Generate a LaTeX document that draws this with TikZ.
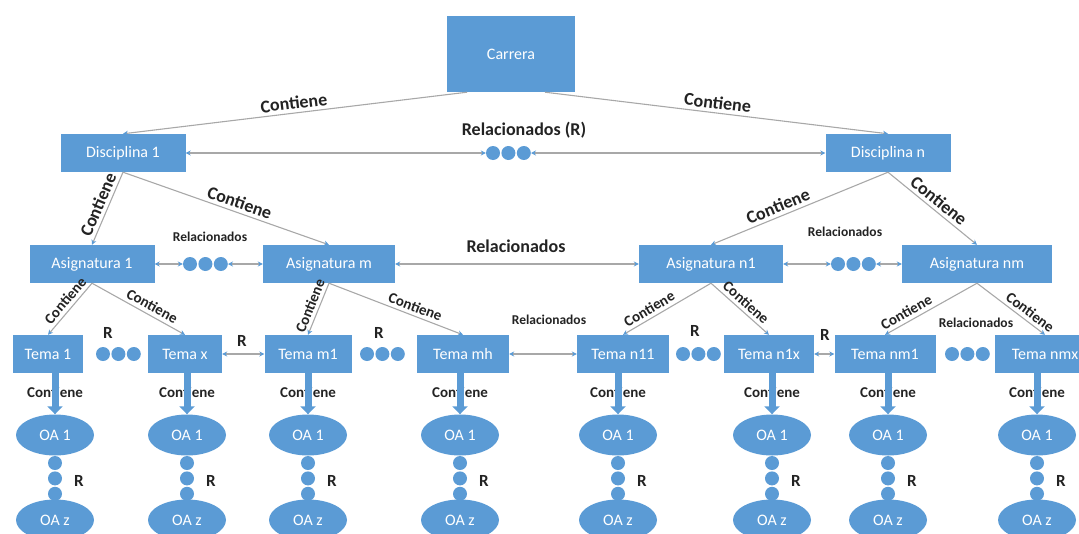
\documentclass[tikz,border=0pt]{standalone}
\usepackage{fontspec}
\setmainfont{Carlito}
\usepackage{tikz}
\usetikzlibrary{arrows.meta,positioning,shapes.geometric}
\definecolor{oablue}{RGB}{91,155,213}
\definecolor{linegray}{RGB}{168,168,168}
\definecolor{labelblack}{RGB}{35,35,35}

\begin{document}
\begin{tikzpicture}[x=1pt, y=-1pt, ->, >={Stealth[length=5pt,width=5pt,color=oablue]}]
	\tikzstyle{every edge}=[draw=linegray, line width=1.1pt]
	\tikzstyle{box}=[rectangle, fill=oablue, text=white, minimum height=38pt, inner sep=0pt, font=\fontsize{16}{18}\selectfont]
	\tikzstyle{oa}=[ellipse, fill=oablue, text=white, minimum width=78pt, minimum height=41pt, inner sep=0pt, font=\fontsize{16}{18}\selectfont]
	\tikzstyle{dot}=[circle, fill=oablue, minimum size=14pt, inner sep=0pt]
	\tikzstyle{big}=[text=labelblack, font=\bfseries\fontsize{18}{20}\selectfont]
	\tikzstyle{mid}=[text=labelblack, font=\bfseries\fontsize{15}{17}\selectfont]
	\tikzstyle{small}=[text=labelblack, font=\bfseries\fontsize{13.5}{15}\selectfont]
	\tikzstyle{rmark}=[text=labelblack, font=\bfseries\fontsize{17}{19}\selectfont]
	\tikzstyle{fat arrow}=[-{Triangle[length=8pt,width=15pt]}, draw=oablue, line width=7pt]
	\useasboundingbox (0,0) rectangle (1079,533);
	\clip (0,0) rectangle (1079,533);

	% carrera y disciplinas
	\node[box, minimum width=128pt, minimum height=76pt] (C) at (511,54) {Carrera};
	\node[box, minimum width=125pt] (D1) at (123,153) {Disciplina 1};
	\node[box, minimum width=125pt] (Dn) at (888,153) {Disciplina n};
	\node[dot] (r1) at (493,153) {};
	\node[dot, right=1pt of r1] (r2) {};
	\node[dot, right=1pt of r2] (r3) {};
	\node[big] (relR) at (524,130) {Relacionados (R)};

	% asignaturas
	\node[box, minimum width=125pt] (A1) at (92,264) {Asignatura 1};
	\node[box, minimum width=132pt] (Am) at (329,264) {Asignatura m};
	\node[box, minimum width=144pt] (An1) at (711,264) {Asignatura n1};
	\node[box, minimum width=150pt] (Anm) at (977,264) {Asignatura nm};
	\node[dot] (a1) at (190,264) {};
	\node[dot, right=1pt of a1] (a2) {};
	\node[dot, right=1pt of a2] (a3) {};
	\node[dot] (b1) at (838,264) {};
	\node[dot, right=1pt of b1] (b2) {};
	\node[dot, right=1pt of b2] (b3) {};
	\node[small] (relA) at (210,237) {Relacionados};
	\node[big] (relM) at (516,246) {Relacionados};
	\node[small] (relN) at (845,232) {Relacionados};

	% temas
	\node[box, minimum width=70pt] (T1) at (48,354) {Tema 1};
	\node[box, minimum width=74pt] (Tx) at (185,354) {Tema x};
	\node[box, minimum width=87pt] (Tm1) at (308,354) {Tema m1};
	\node[box, minimum width=92pt] (Tmh) at (463,354) {Tema mh};
	\node[box, minimum width=92pt] (Tn11) at (623,354) {Tema n11};
	\node[box, minimum width=90pt] (Tn1x) at (769,354) {Tema n1x};
	\node[box, minimum width=101pt] (Tnm1) at (885,354) {Tema nm1};
	\node[box, minimum width=100pt] (Tnmx) at (1045,354) {Tema nmx};
	\node[dot] (t1) at (103,354) {};
	\node[dot, right=1pt of t1] (t2) {};
	\node[dot, right=1pt of t2] (t3) {};
	\node[dot] (u1) at (367,354) {};
	\node[dot, right=1pt of u1] (u2) {};
	\node[dot, right=1pt of u2] (u3) {};
	\node[dot] (v1) at (683,354) {};
	\node[dot, right=1pt of v1] (v2) {};
	\node[dot, right=1pt of v2] (v3) {};
	\node[dot] (w1) at (952,354) {};
	\node[dot, right=1pt of w1] (w2) {};
	\node[dot, right=1pt of w2] (w3) {};
	\node[rmark] (R1) at (108,333) {R};
	\node[rmark] (R2) at (242,341) {R};
	\node[rmark] (R3) at (379,333) {R};
	\node[small] (relT) at (549,320) {Relacionados};
	\node[rmark] (R4) at (695,331) {R};
	\node[rmark] (R5) at (825,335) {R};
	\node[small] (relW) at (976,323) {Relacionados};

	\path
	([xshift=-44pt]C.south) edge node[big, sloped, above]{Contiene} (D1.north)
	([xshift=34pt]C.south) edge node[big, sloped, above]{Contiene} (Dn.north)
	(D1) edge[<->] (r1)
	(r3) edge[<->] (Dn)
	(D1.south) edge node[big, sloped, above]{Contiene} (A1.north)
	(D1.south) edge node[big, sloped, above, pos=0.55]{Contiene} (Am.north)
	(Dn.south) edge node[big, sloped, above, pos=0.6]{Contiene} (An1.north)
	(Dn.south) edge node[big, sloped, above]{Contiene} (Anm.north)
	(A1) edge[<->] (a1)
	(a3) edge[<->] (Am)
	(Am) edge[<->] (An1)
	(An1) edge[<->] (b1)
	(b3) edge[<->] (Anm)
	(A1.south) edge node[mid, sloped, above, pos=0.45]{Contiene} (T1.north)
	(A1.south) edge node[mid, sloped, above, pos=0.6]{Contiene} (Tx.north)
	(Am.south) edge node[mid, sloped, above]{Contiene} (Tm1.north)
	(Am.south) edge node[mid, sloped, above, pos=0.62]{Contiene} (Tmh.north)
	(An1.south) edge node[mid, sloped, above, pos=0.65]{Contiene} (Tn11.north)
	(An1.south) edge node[mid, sloped, above, pos=0.5]{Contiene} (Tn1x.north)
	(Anm.south) edge node[mid, sloped, above, pos=0.72]{Contiene} (Tnm1.north)
	(Anm.south) edge node[mid, sloped, above, pos=0.7]{Contiene} (Tnmx.north)
	(Tx) edge[<->] (Tm1)
	(Tmh) edge[<->] (Tn11)
	(Tn1x) edge[<->] (Tnm1);

	% objetos de aprendizaje
	\foreach \t/\x [count=\i] in {T1/55, Tx/187, Tm1/308, Tmh/460, Tn11/618, Tn1x/772, Tnm1/888, Tnmx/1037} {
		\node[oa] (o\i) at (\x,435) {OA 1};
		\node[oa] (z\i) at (\x,520) {OA z};
		\node[dot] (p\i) at (\x,463) {};
		\node[dot, below=1pt of p\i] (q\i) {};
		\node[dot, below=1pt of q\i] (s\i) {};
		\node[rmark] (k\i) at (\x+24,481) {R};
		\node[mid] (c\i) at (\x,392) {Contiene};
		\draw[fat arrow] (o\i.north |- \t.south) -- (o\i.north);
	}
\end{tikzpicture}
\end{document}
